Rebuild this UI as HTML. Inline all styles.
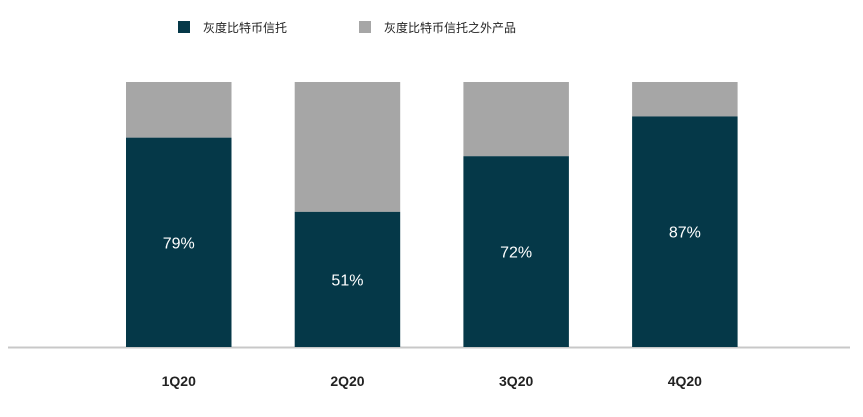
<!DOCTYPE html>
<html><head><meta charset="utf-8"><style>
html,body{margin:0;padding:0;background:#fff;}
svg{display:block;font-family:"Liberation Sans","Noto Sans CJK SC",sans-serif;}
</style></head><body>
<svg id="chart" width="863" height="417" viewBox="0 0 863 417">
  <g>
    <rect x="178" y="21" width="12" height="12" fill="#053848"/>
    <text x="203" y="32" font-size="12" fill="#222">灰度比特币信托</text>
    <rect x="359" y="21" width="12" height="12" fill="#a6a6a6"/>
    <text x="384" y="32" font-size="12" fill="#222">灰度比特币信托之外产品</text>
  </g>
  <line x1="8" y1="347.5" x2="850" y2="347.5" stroke="#c8c8c8" stroke-width="2"/>
  <g id="bars"></g>
</svg>
<script>
const categories = ["1Q20", "2Q20", "3Q20", "4Q20"];
const gbtcShare = [79, 51, 72, 87];
const otherShare = [21, 49, 28, 13];

const svg = document.getElementById('bars');
const NS = 'http://www.w3.org/2000/svg';
const baseY = 347, topY = 82;
const yScale = v => baseY - (v / 100) * (baseY - topY);
const xLeft = i => 126 + i * 168.7;
const barW = 105.5;

categories.forEach((c, i) => {
  const x = xLeft(i);
  const gTop = yScale(gbtcShare[i]);
  const oTop = yScale(gbtcShare[i] + otherShare[i]);
  const r1 = document.createElementNS(NS, 'rect');
  r1.setAttribute('x', x); r1.setAttribute('y', oTop);
  r1.setAttribute('width', barW); r1.setAttribute('height', gTop - oTop);
  r1.setAttribute('fill', '#a6a6a6');
  
  
  svg.appendChild(r1);
  const r2 = document.createElementNS(NS, 'rect');
  r2.setAttribute('x', x); r2.setAttribute('y', gTop);
  r2.setAttribute('width', barW); r2.setAttribute('height', baseY - gTop);
  r2.setAttribute('fill', '#053848');
  
  
  svg.appendChild(r2);
  const t = document.createElementNS(NS, 'text');
  t.setAttribute('x', x + barW / 2); t.setAttribute('y', (gTop + baseY) / 2 + 6);
  t.setAttribute('text-anchor', 'middle'); t.setAttribute('font-size', '16');
  t.setAttribute('fill', '#fff');
  
  
  t.textContent = gbtcShare[i] + '%';
  svg.appendChild(t);
  const l = document.createElementNS(NS, 'text');
  l.setAttribute('x', x + barW / 2); l.setAttribute('y', 386);
  l.setAttribute('text-anchor', 'middle'); l.setAttribute('font-size', '14');
  l.setAttribute('font-weight', 'bold'); l.setAttribute('fill', '#222');
  
  
  l.textContent = c;
  svg.appendChild(l);
});
</script>
</body></html>
